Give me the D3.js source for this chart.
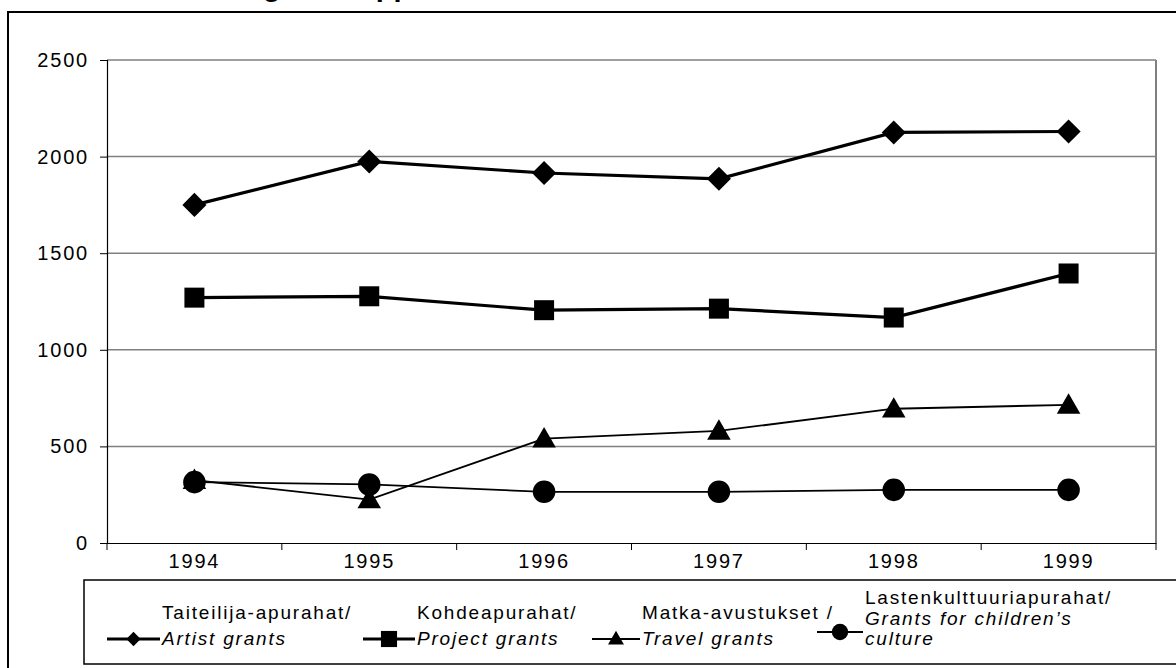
<!DOCTYPE html>
<html>
<head>
<meta charset="utf-8">
<script src="https://cdn.jsdelivr.net/npm/d3@7"></script>
<style>
body { margin: 0; background: #fff; }
text { font-family: "Liberation Sans", Arial, sans-serif; fill: #000; }
</style>
</head>
<body>
<script>
const width = 1176,
      height = 668;

// data
const years = ["1994", "1995", "1996", "1997", "1998", "1999"];
const artistGrants = [1750, 1975, 1915, 1885, 2125, 2130];
const projectGrants = [1270, 1277, 1205, 1213, 1167, 1395];
const travelGrants = [325, 225, 540, 580, 695, 715];
const childrenGrants = [315, 303, 265, 265, 275, 275];
const yTicks = [0, 500, 1000, 1500, 2000, 2500];

const series = [
	{ fi: "Taiteilija-apurahat/", en: ["Artist grants"], values: artistGrants, symbol: "diamond", thick: true },
	{ fi: "Kohdeapurahat/", en: ["Project grants"], values: projectGrants, symbol: "square", thick: true },
	{ fi: "Matka-avustukset /", en: ["Travel grants"], values: travelGrants, symbol: "triangle", thick: false },
	{ fi: "Lastenkulttuuriapurahat/", en: ["Grants for children\u2019s", "culture"], values: childrenGrants, symbol: "circle", thick: false }
];

const plot = { left: 107, right: 1156, top: 60, bottom: 543 };

var svg = d3.select("body").append("svg")
	.attr("width", width)
	.attr("height", height);

// title, mostly above the page edge like in the source
svg.append("text")
	.attr("x", 110)
	.attr("y", -4)
	.style("font-size", "29px")
	.style("font-weight", "bold")
	.text("Number of grants applied");

// outer frame
svg.append("rect")
	.attr("x", 8).attr("y", 12)
	.attr("width", 1200).attr("height", 700)
	.attr("fill", "none")
	.attr("stroke", "#000")
	.attr("stroke-width", 2);

var x = d3.scaleBand()
	.domain(years)
	.range([plot.left, plot.right]);

var y = d3.scaleLinear()
	.domain([0, 2500])
	.range([plot.bottom, plot.top]);

// gridlines
svg.append("g")
	.selectAll("line")
	.data(yTicks.filter(d => d > 0))
	.enter().append("line")
	.attr("x1", plot.left)
	.attr("x2", plot.right)
	.attr("y1", d => y(d))
	.attr("y2", d => y(d))
	.attr("stroke", "#808080")
	.attr("stroke-width", 1.5);

// right border of plot
svg.append("line")
	.attr("x1", plot.right).attr("x2", plot.right)
	.attr("y1", plot.top).attr("y2", plot.bottom)
	.attr("stroke", "#808080")
	.attr("stroke-width", 2);

// y axis
var yAxis = svg.append("g")
	.attr("transform", "translate(" + plot.left + ",0)")
	.call(d3.axisLeft(y).tickValues(yTicks).tickSize(7).tickPadding(11).tickFormat(d3.format("d")));
yAxis.select(".domain").attr("stroke", "#000").attr("stroke-width", 1.2);
yAxis.selectAll(".tick line").attr("stroke", "#000");
yAxis.selectAll("text")
	.style("font-size", "20px")
	.style("letter-spacing", "1.8px")
	.attr("font-family", null);

// x axis
var xAxis = svg.append("g")
	.attr("transform", "translate(0," + plot.bottom + ")")
	.call(d3.axisBottom(x).tickSize(0).tickPadding(11));
xAxis.select(".domain").attr("stroke", "#000").attr("stroke-width", 1.2);
xAxis.selectAll("text")
	.style("font-size", "20px")
	.style("letter-spacing", "1.8px")
	.attr("font-family", null);

// x boundary ticks
svg.append("g")
	.selectAll("line")
	.data(years.concat(["end"]))
	.enter().append("line")
	.attr("x1", (d, i) => plot.left + i * x.step())
	.attr("x2", (d, i) => plot.left + i * x.step())
	.attr("y1", plot.bottom)
	.attr("y2", plot.bottom + 7)
	.attr("stroke", "#000");

var symbolFor = function (name, big) {
	if (name == "diamond") return d3.symbol().type(d3.symbolDiamond2).size(big ? 370 : 130)();
	if (name == "square") return d3.symbol().type(d3.symbolSquare).size(big ? 400 : 260)();
	if (name == "triangle") return d3.symbol().type(d3.symbolTriangle).size(big ? 240 : 110)();
	return d3.symbol().type(d3.symbolCircle).size(big ? 400 : 210)();
}

var line = d3.line()
	.x((d, i) => x(years[i]) + x.bandwidth() / 2)
	.y(d => y(d));

// draw thin series first so thick ones sit on top
var order = [3, 2, 1, 0];
order.forEach(function (k) {
	var s = series[k];
	svg.append("path")
		.datum(s.values)
		.attr("d", line)
		.attr("fill", "none")
		.attr("stroke", "#000")
		.attr("stroke-width", s.thick ? 3.2 : 1.8);
	svg.append("g")
		.selectAll("path")
		.data(s.values)
		.enter().append("path")
		.attr("transform", (d, i) => {
			var dy = s.symbol == "triangle" ? 2 : 0;
			return "translate(" + (x(years[i]) + x.bandwidth() / 2) + "," + (y(d) + dy) + ")";
		})
		.attr("d", symbolFor(s.symbol, true))
		.attr("fill", "#000");
});

// legend
var legend = svg.append("g");
legend.append("rect")
	.attr("x", 84).attr("y", 580)
	.attr("width", 1200).attr("height", 84)
	.attr("fill", "#fff")
	.attr("stroke", "#000")
	.attr("stroke-width", 1.5);

const legendX = [107, 363, 592, 817];
const legendLineW = [53, 52, 48, 46];

series.forEach(function (s, k) {
	var lx = legendX[k];
	var ly = k == 3 ? 632 : 639;
	var g = legend.append("g");
	g.append("line")
		.attr("x1", lx).attr("x2", lx + legendLineW[k])
		.attr("y1", ly).attr("y2", ly)
		.attr("stroke", "#000")
		.attr("stroke-width", s.thick ? 3.2 : 2);
	g.append("path")
		.attr("transform", "translate(" + (lx + legendLineW[k] / 2) + "," + (ly + (s.symbol == "triangle" ? 1 : 0)) + ")")
		.attr("d", symbolFor(s.symbol, false))
		.attr("fill", "#000");
	var tx = lx + legendLineW[k] + 2;
	if (k < 3) {
		g.append("text")
			.attr("x", tx).attr("y", 619)
			.style("font-size", "19px")
			.style("letter-spacing", "1.8px")
			.text(s.fi);
		g.append("text")
			.attr("x", tx).attr("y", 645)
			.style("font-size", "19px")
			.style("font-style", "italic")
			.style("letter-spacing", "1.8px")
			.text(s.en[0]);
	} else {
		g.append("text")
			.attr("x", tx).attr("y", 604)
			.style("font-size", "19px")
			.style("letter-spacing", "1.8px")
			.text(s.fi);
		s.en.forEach(function (t, j) {
			g.append("text")
				.attr("x", tx).attr("y", 625 + j * 20)
				.style("font-size", "19px")
				.style("font-style", "italic")
				.style("letter-spacing", "1.8px")
				.text(t);
		});
	}
});
</script>
</body>
</html>
